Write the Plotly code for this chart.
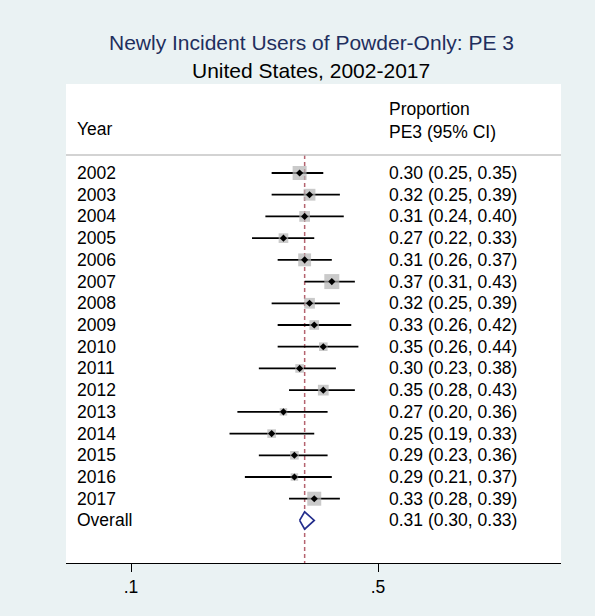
import numpy as np
import plotly.graph_objects as go

# Year-level estimates of PE3 proportion with 95% confidence limits
years = ["2002", "2003", "2004", "2005", "2006", "2007", "2008", "2009",
         "2010", "2011", "2012", "2013", "2014", "2015", "2016", "2017"]
est = [0.30, 0.32, 0.31, 0.27, 0.31, 0.37, 0.32, 0.33,
       0.35, 0.30, 0.35, 0.27, 0.25, 0.29, 0.29, 0.33]
lo = [0.25, 0.25, 0.24, 0.22, 0.26, 0.31, 0.25, 0.26,
      0.26, 0.23, 0.28, 0.20, 0.19, 0.23, 0.21, 0.28]
hi = [0.35, 0.39, 0.40, 0.33, 0.37, 0.43, 0.39, 0.42,
      0.44, 0.38, 0.43, 0.36, 0.33, 0.36, 0.37, 0.39]
# Relative study weights (percent)
weights = [10.5, 7.5, 6.2, 5.0, 8.9, 12.1, 6.2, 5.0,
           4.0, 4.0, 6.2, 3.0, 4.0, 4.0, 3.0, 10.5]

overall_label = "Overall"
overall_est = 0.31
overall_lo = 0.30
overall_hi = 0.33

tick_vals = [0.1, 0.5]
tick_text = [".1", ".5"]

title_text = "Newly Incident Users of Powder-Only: PE 3"
subtitle_text = "United States, 2002-2017"
col_left_header = "Year"
col_right_header = "Proportion<br>PE3 (95% CI)"

FONT = "Arial, Liberation Sans, Helvetica, sans-serif"
BG = "#eaf2f3"
W, H = 595, 616
L, R, T, B = 66, 34, 84, 53
pw, ph = W - L - R, H - T - B

n = len(years)
rows = list(range(n))
overall_row = n

fig = go.Figure()

# Confidence interval segments
cx, cy = [], []
for i in rows:
    cx += [lo[i], hi[i], None]
    cy += [i, i, None]
fig.add_trace(go.Scatter(x=cx, y=cy, mode="lines",
                         line=dict(color="black", width=1.8),
                         hoverinfo="skip", showlegend=False))

# Weight boxes
wmax = max(weights)
sizes = [15 * np.sqrt(w / wmax) for w in weights]
fig.add_trace(go.Scatter(x=est, y=rows, mode="markers",
                         marker=dict(symbol="square", size=sizes, color="#b3b3b3",
                                     line=dict(width=0)),
                         showlegend=False))

# Point estimates
fig.add_trace(go.Scatter(x=est, y=rows, mode="markers",
                         marker=dict(symbol="diamond", size=5.5, color="black"),
                         showlegend=False))

# Pooled estimate diamond spanning its CI
dh = 0.4
fig.add_trace(go.Scatter(
    x=[overall_lo, overall_est, overall_hi, overall_est, overall_lo],
    y=[overall_row, overall_row - dh, overall_row, overall_row + dh, overall_row],
    mode="lines", line=dict(color="#232d8c", width=1.7),
    fill="toself", fillcolor="white", hoverinfo="skip", showlegend=False))

y_top = -4.098
y_bot = 17.96
sep_row = -0.829

shapes = [
    # reference line at pooled estimate
    dict(type="line", xref="x", yref="y", x0=overall_est, x1=overall_est,
         y0=sep_row, y1=y_bot, layer="below",
         line=dict(color="#b5636f", width=1.5, dash="4px,3px")),
    # header separator
    dict(type="line", xref="paper", yref="y", x0=0, x1=1, y0=sep_row, y1=sep_row,
         line=dict(color="#c4c4c4", width=1.5)),
]

annotations = []
text_font = dict(family=FONT, size=17.5, color="black")
x_left = 0.018
x_right = (387 - L) / pw


def cell(x, y, text):
    annotations.append(dict(x=x, xref="paper", y=y, yref="y", text=text,
                            xanchor="left", yanchor="middle", align="left",
                            showarrow=False, font=text_font))


for i, yr in enumerate(years):
    cell(x_left, i, yr)
    cell(x_right, i, f"{est[i]:.2f} ({lo[i]:.2f}, {hi[i]:.2f})")
cell(x_left, overall_row, overall_label)
cell(x_right, overall_row, f"{overall_est:.2f} ({overall_lo:.2f}, {overall_hi:.2f})")
# column headers
cell(x_left, -2.03, col_left_header)
cell(x_right, -2.4, col_right_header)

# titles, placed by pixel row above the plot area
title_x = (311 - L) / pw
annotations.append(dict(x=title_x, xref="paper", y=1 + (T - 42) / ph, yref="paper",
                        text=title_text, showarrow=False,
                        font=dict(family=FONT, size=21, color="#1f2f5e"),
                        xanchor="center", yanchor="middle"))
annotations.append(dict(x=title_x, xref="paper", y=1 + (T - 70) / ph, yref="paper",
                        text=subtitle_text, showarrow=False,
                        font=dict(family=FONT, size=21, color="black"),
                        xanchor="center", yanchor="middle"))

fig.update_layout(
    width=W, height=H,
    margin=dict(l=L, r=R, t=T, b=B, pad=0),
    paper_bgcolor=BG, plot_bgcolor="white",
    shapes=shapes, annotations=annotations,
    xaxis=dict(type="log", range=[-1.184, 0.2168], tickvals=tick_vals,
               ticktext=tick_text, ticks="outside", ticklen=8, tickwidth=1.2,
               tickcolor="black", showline=True, linecolor="black", linewidth=1.2,
               showgrid=False, zeroline=False,
               tickfont=dict(family=FONT, size=17.5, color="black")),
    yaxis=dict(range=[y_bot, y_top], showticklabels=False, showgrid=False,
               zeroline=False, showline=False, ticks=""),
    showlegend=False,
)

fig.write_html("out.html")
